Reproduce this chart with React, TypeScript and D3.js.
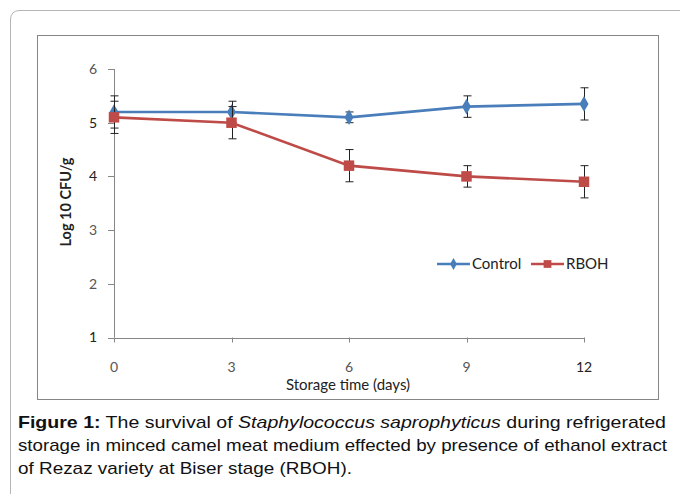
import { useEffect, useRef } from "react";
import * as d3 from "d3";

const days = [0, 3, 6, 9, 12];
const controlMean = [5.2, 5.2, 5.1, 5.3, 5.35];
const controlErr = [0.3, 0.2, 0.1, 0.2, 0.3];
const rbohMean = [5.1, 5.0, 4.2, 4.0, 3.9];
const rbohErr = [0.3, 0.3, 0.3, 0.2, 0.3];
const yTicks = [1, 2, 3, 4, 5, 6];

const seriesList = [
  { name: "Control", mean: controlMean, err: controlErr, color: "#4a7ebb", marker: "diamond" },
  { name: "RBOH", mean: rbohMean, err: rbohErr, color: "#be4b48", marker: "square" }
];

const chartFont = "Lato, 'Open Sans', sans-serif";

export default function App() {
  const svgRef = useRef<SVGSVGElement>(null);

  useEffect(() => {
    const svg = d3.select(svgRef.current);
    svg.selectAll("*").remove();

    // outer frame with rounded corner
    svg.append("path")
      .attr("d", "M10.5,700 L10.5,20 Q10.5,10.5 20,10.5 L700,10.5")
      .attr("fill", "none")
      .attr("stroke", "#b5b5b5")
      .attr("stroke-width", 1);

    // chart box
    svg.append("rect")
      .attr("x", 37.5).attr("y", 35.5)
      .attr("width", 621).attr("height", 364)
      .attr("fill", "white")
      .attr("stroke", "#868686");

    const x = d3.scaleLinear().domain([0, 12]).range([114, 584]);
    const y = d3.scaleLinear().domain([1, 6]).range([337.5, 69]);

    const g = svg.append("g");

    // y axis
    g.append("line")
      .attr("x1", 114.5).attr("x2", 114.5)
      .attr("y1", y(6)).attr("y2", y(1))
      .attr("stroke", "#868686");
    yTicks.forEach(t => {
      g.append("line")
        .attr("x1", 108).attr("x2", 114.5)
        .attr("y1", Math.round(y(t)) + 0.5).attr("y2", Math.round(y(t)) + 0.5)
        .attr("stroke", "#868686");
      g.append("text")
        .attr("x", 97).attr("y", y(t))
        .attr("dy", "0.35em")
        .attr("text-anchor", "end")
        .attr("font-family", chartFont)
        .attr("font-size", 14)
        .attr("fill", t === 1 || t === 4 || t === 5 ? "#222" : "#555")
        .text(t);
    });

    // x axis
    g.append("line")
      .attr("x1", x(0)).attr("x2", x(12))
      .attr("y1", Math.round(y(1)) + 0.5).attr("y2", Math.round(y(1)) + 0.5)
      .attr("stroke", "#868686");
    days.forEach(d => {
      g.append("line")
        .attr("x1", Math.round(x(d)) + 0.5).attr("x2", Math.round(x(d)) + 0.5)
        .attr("y1", y(1)).attr("y2", y(1) + 5)
        .attr("stroke", "#868686");
      g.append("text")
        .attr("x", x(d)).attr("y", 372)
        .attr("text-anchor", "middle")
        .attr("font-family", chartFont)
        .attr("font-size", 14)
        .attr("fill", d === 12 ? "#222" : "#555")
        .text(d);
    });

    // axis titles
    g.append("text")
      .attr("transform", `translate(71,202) rotate(-90)`)
      .attr("text-anchor", "middle")
      .attr("font-family", chartFont)
      .attr("font-size", 14.5)
      .attr("font-weight", "bold")
      .attr("fill", "#222")
      .text("Log 10 CFU/g");
    g.append("text")
      .attr("x", 348).attr("y", 390)
      .attr("text-anchor", "middle")
      .attr("font-family", chartFont)
      .attr("font-size", 15)
      .attr("fill", "#222")
      .text("Storage time (days)");

    const line = d3.line<number>()
      .x((_, i) => x(days[i]))
      .y(v => y(v));

    seriesList.forEach(s => {
      const sg = g.append("g");
      sg.append("path")
        .datum(s.mean)
        .attr("d", line)
        .attr("fill", "none")
        .attr("stroke", s.color)
        .attr("stroke-width", 2.6);

      // error bars
      s.mean.forEach((m, i) => {
        const cx = Math.round(x(days[i])) + 0.5;
        const top = y(m + s.err[i]);
        const bot = y(m - s.err[i]);
        sg.append("line").attr("x1", cx).attr("x2", cx).attr("y1", top).attr("y2", bot)
          .attr("stroke", "#222").attr("stroke-width", 1);
        [top, bot].forEach(yy => {
          sg.append("line").attr("x1", cx - 4).attr("x2", cx + 4).attr("y1", yy).attr("y2", yy)
            .attr("stroke", "#222").attr("stroke-width", 1);
        });
      });

      sg.selectAll(".marker")
        .data(s.mean)
        .join("path")
        .attr("class", "marker")
        .attr("transform", (v, i) => `translate(${x(days[i])},${y(v)})`)
        .attr("d", s.marker === "diamond"
          ? d3.symbol(d3.symbolDiamond, 70)()
          : d3.symbol(d3.symbolSquare, 110)())
        .attr("fill", s.color);
    });

    // legend
    const legendItems = [
      { s: seriesList[0], x0: 437, tx: 472 },
      { s: seriesList[1], x0: 531, tx: 566 }
    ];
    legendItems.forEach(({ s, x0, tx }) => {
      const ly = 264;
      g.append("line")
        .attr("x1", x0).attr("x2", x0 + 33)
        .attr("y1", ly).attr("y2", ly)
        .attr("stroke", s.color).attr("stroke-width", 2.6);
      g.append("path")
        .attr("transform", `translate(${x0 + 16.5},${ly})`)
        .attr("d", s.marker === "diamond"
          ? d3.symbol(d3.symbolDiamond, 40)()
          : d3.symbol(d3.symbolSquare, 60)())
        .attr("fill", s.color);
      g.append("text")
        .attr("x", tx).attr("y", ly)
        .attr("dy", "0.35em")
        .attr("font-family", chartFont)
        .attr("font-size", 15)
        .attr("fill", "#222")
        .text(s.name);
    });

    // caption
    const cap = svg.append("g")
      .attr("font-family", "'Liberation Sans', Arial, sans-serif")
      .attr("font-size", 17)
      .attr("fill", "#111");
    const l1 = cap.append("text").attr("x", 18).attr("y", 428)
      .attr("textLength", 648).attr("lengthAdjust", "spacingAndGlyphs");
    l1.append("tspan").attr("font-weight", "bold").text("Figure 1:");
    l1.append("tspan").text(" The survival of ");
    l1.append("tspan").attr("font-style", "italic").text("Staphylococcus saprophyticus");
    l1.append("tspan").text(" during refrigerated");
    cap.append("text").attr("x", 18).attr("y", 451)
      .attr("textLength", 649).attr("lengthAdjust", "spacingAndGlyphs")
      .text("storage in minced camel meat medium effected by presence of ethanol extract");
    cap.append("text").attr("x", 18).attr("y", 474)
      .attr("textLength", 334).attr("lengthAdjust", "spacingAndGlyphs")
      .text("of Rezaz variety at Biser stage (RBOH).");
  }, []);

  return (
    <svg ref={svgRef} width={680} height={494}
      style={{ position: "absolute", left: 0, top: 0, background: "white" }} />
  );
}
